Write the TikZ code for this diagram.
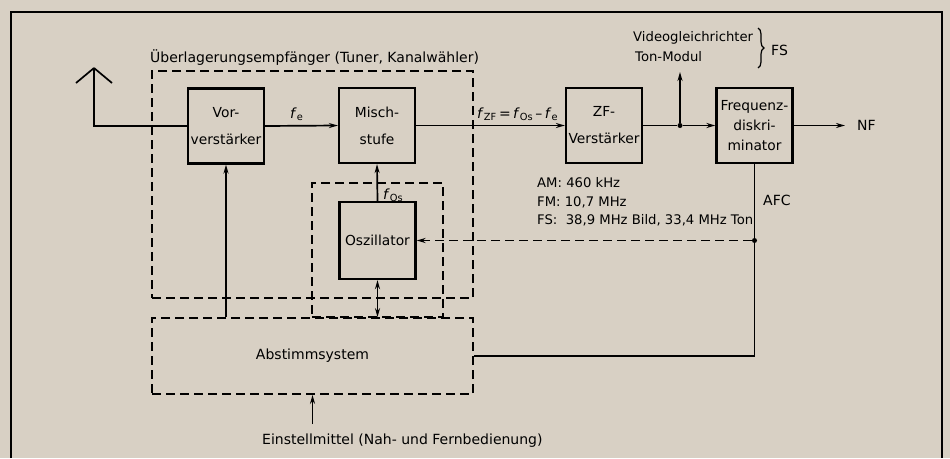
\documentclass[tikz,border=0pt]{standalone}
\usepackage{fontspec}
\setmainfont{DejaVu Sans}
\usetikzlibrary{arrows.meta,decorations.pathreplacing}
\definecolor{paper}{RGB}{216,208,196}

\begin{document}
\begin{tikzpicture}[x=1pt,y=-1pt,
    font=\fontsize{14}{16}\selectfont,
    block/.style={draw, line width=2.2pt, minimum width=76pt, minimum height=75pt,
        inner sep=1pt, align=center, font=\fontsize{13.8}{20}\selectfont},
    dashbox/.style={draw, line width=1.8pt, dash pattern=on 9pt off 5pt},
    sig/.style={line width=1.7pt},
    arr/.style={sig, -{Stealth[length=9pt,width=5pt]}},
    dot/.style={circle, fill, inner sep=0pt, minimum size=5pt},
    txt/.style={inner sep=0pt, anchor=base west}]
    % paper and frame
    \fill[paper] (0,0) rectangle (950,458);
    \useasboundingbox (0,0) rectangle (950,458);
    \draw[line width=2.2pt] (11,458) -- (11,12) -- (942,12) -- (942,458);

    % Tuner
    \node[dashbox, minimum width=321pt, minimum height=227pt] (tuner) at (312.5,184.5) {};
    \node[txt] (tunerlabel) at (150,62) {Überlagerungsempfänger (Tuner, Kanalwähler)};
    \node[dashbox, minimum width=131pt, minimum height=134pt] (oszbox) at (377.5,250) {};
    \node[block] (vor) at (226,126) {Vor-\\[7pt]verstärker};
    \node[block] (misch) at (377,125.5) {Misch-\\[7pt]stufe};
    \node[block, minimum height=77pt] (osz) at (377.5,240.5) {Oszillator};

    % ZF and Demodulator
    \node[block] (zf) at (604,125.5) {ZF-\\[7pt]Verstärker};
    \node[block] (disk) at (754.5,125.5) {Frequenz-\\diskri-\\minator};

    % Tuning system
    \node[dashbox, minimum width=321pt, minimum height=76pt] (abst) at (312.5,356) {Abstimmsystem};

    % Antenna
    \coordinate (ant) at (94,68);
    \draw[sig] (ant) -- ++(-18,15);
    \draw[sig] (ant) -- ++(18,15);
    \draw[sig] (ant) |- (vor.west);

    % Signal path
    \draw[arr] (vor.east) -- (misch.west);
    \node[txt] (fe) at (290,118) {\textit{f}\textsubscript{e}};
    \draw[arr] (misch.east) -- (zf.west);
    \node[txt] (fzf) at (477,118) {\textit{f}\textsubscript{ZF}\,=\,\textit{f}\textsubscript{Os}\,--\,\textit{f}\textsubscript{e}};
    \node[dot] (split) at (680,125.5) {};
    \coordinate (video) at (680,72);
    \draw[sig] (zf.east) -- (split);
    \draw[arr] (split) -- (disk.west);
    \draw[arr] (split) -- (video);
    \coordinate (nfend) at (845,125.5);
    \draw[arr] (disk.east) -- (nfend);
    \node[txt] (nf) at (857,130.5) {NF};

    % Oscillator and tuning
    \draw[arr] (osz.north) -- (misch.south);
    \node[txt] (fos) at (383,199) {\textit{f}\textsubscript{Os}};
    \draw[sig, {Stealth[length=9pt,width=5pt]}-{Stealth[length=9pt,width=5pt]}]
        (osz.south) -- (osz.south |- abst.north);
    \draw[arr] (vor.south |- abst.north) -- (vor.south);

    % AFC
    \node[dot] (afc) at (disk.south |- osz.east) {};
    \draw[sig] (disk.south) -- (afc);
    \draw[sig] (afc) |- (abst.east);
    \draw[arr, dash pattern=on 9pt off 5pt] (afc) -- (osz.east);
    \node[txt] (afclabel) at (763,205) {AFC};

    % Remote control input
    \coordinate (einst) at (312.5,424);
    \draw[arr] (einst) -- (abst.south);
    \node[txt] (einstlabel) at (262,444) {Einstellmittel (Nah- und Fernbedienung)};

    % IF values
    \node[txt, font=\fontsize{13.2}{15}\selectfont] (am) at (537,187) {AM: 460 kHz};
    \node[txt, font=\fontsize{13.2}{15}\selectfont] (fm) at (537,206) {FM: 10,7 MHz};
    \node[txt, font=\fontsize{13.2}{15}\selectfont] (fs) at (537,224) {FS:\ \ 38,9 MHz Bild, 33,4 MHz Ton};

    % Video outputs
    \node[txt, font=\fontsize{13.2}{15}\selectfont] (vidlabel) at (633,41) {Videogleichrichter};
    \node[txt, font=\fontsize{13.2}{15}\selectfont] (tonlabel) at (635,61) {Ton-Modul};
    \draw[line width=1.2pt, decorate, decoration={brace, amplitude=6pt}] (758,28) -- (758,68);
    \node[txt] (fslabel) at (771,55) {FS};
\end{tikzpicture}
\end{document}
